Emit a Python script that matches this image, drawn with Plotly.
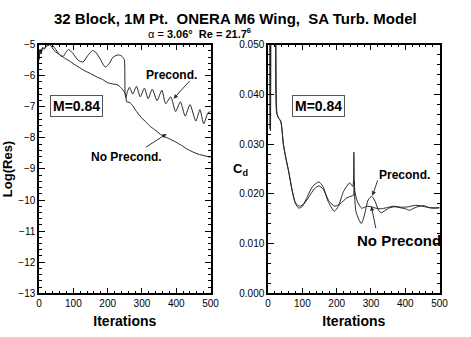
import plotly.graph_objects as go

# ---------------- data ----------------
# Left panel: Log(Res) vs iterations
res_pre_it = [0, 3, 6, 10, 15, 22, 30, 37, 45, 54, 63, 71, 78, 85, 92, 100, 114, 128, 142, 156,
              165, 175, 193, 205, 216, 230, 240, 247, 249, 251, 253, 258, 264, 273, 284, 295, 307,
              318, 330, 344, 358, 369, 384, 398, 412, 426, 440, 457, 469, 480, 492, 500]
res_pre_val = [-5.45, -5.15, -5.3, -5.1, -5.12, -5.04, -5.0, -5.0, -5.1, -5.24, -5.36, -5.37, -5.25, -5.16,
               -5.2, -5.3, -5.5, -5.56, -5.35, -5.19, -5.24, -5.4, -5.72, -5.6, -5.4, -5.33, -5.36, -5.45,
               -5.5, -6.6, -6.7, -6.5, -6.37, -6.59, -6.34, -6.68, -6.4, -6.74, -6.43, -6.8, -6.46,
               -6.9, -6.68, -7.15, -6.84, -7.3, -6.93, -7.46, -7.09, -7.55, -7.2, -7.15]

res_nop_it = [0, 3, 6, 10, 15, 22, 31, 45, 60, 74, 88, 102, 117, 131, 150, 170, 185, 199, 213, 230,
              244, 250, 253, 255, 262, 270, 284, 301, 311, 321, 341, 358, 378, 398, 415, 435, 463, 500]
res_nop_val = [-5.5, -5.2, -5.3, -5.1, -5.15, -5.05, -5.0, -5.2, -5.32, -5.43, -5.52, -5.63, -5.73,
               -5.83, -5.93, -6.05, -6.12, -6.22, -6.26, -6.3, -6.45, -6.55, -6.62, -6.84, -6.85,
               -6.92, -7.15, -7.38, -7.48, -7.6, -7.77, -7.92, -8.02, -8.13, -8.24, -8.38, -8.52, -8.62]

# Right panel: Cd vs iterations
cd_pre_it = [0, 3, 6, 8.5, 12, 17, 22, 25, 31, 37, 45, 52, 60, 71, 80, 90, 100, 115, 130, 148, 160,
             175, 193, 205, 220, 238, 247, 250, 252, 256, 265, 272, 280, 292, 302, 312, 322, 330,
             340, 355, 370, 385, 400, 412, 425, 440, 455, 470, 485, 500]
cd_pre_val = [0.08, 0.10, 0.033, 0.09, 0.08, 0.09, 0.06, 0.0362, 0.0352, 0.0346, 0.0298, 0.027,
              0.0245, 0.0204, 0.018, 0.0171, 0.0175, 0.0195, 0.0215, 0.0224, 0.0215, 0.0185, 0.0165,
              0.0175, 0.0205, 0.0222, 0.0215, 0.0284, 0.020, 0.0165, 0.0148, 0.014, 0.0155, 0.0188,
              0.0195, 0.0185, 0.0167, 0.0162, 0.0166, 0.0172, 0.0174, 0.0172, 0.017, 0.0167,
              0.0171, 0.0175, 0.0176, 0.0172, 0.0171, 0.0172]

cd_nop_it = [0, 4, 7, 11, 15, 19, 23, 26, 31, 37, 45, 60, 71, 80, 92, 105, 120, 135, 148, 160, 178,
             195, 210, 230, 245, 249, 251, 253, 260, 273, 288, 300, 315, 330, 345, 365, 390, 410,
             430, 450, 475, 500]
cd_nop_val = [0.07, 0.09, 0.0327, 0.09, 0.07, 0.08, 0.05, 0.0362, 0.0352, 0.0346, 0.0298, 0.0245,
              0.0204, 0.0182, 0.0175, 0.018, 0.0195, 0.021, 0.0216, 0.021, 0.0185, 0.0175, 0.018,
              0.0192, 0.0196, 0.0197, 0.0225, 0.0205, 0.0185, 0.0171, 0.0175, 0.0174, 0.0171,
              0.017, 0.0172, 0.0175, 0.0173, 0.0174, 0.0177, 0.0175, 0.0172, 0.0172]

x_ticks = [0, 100, 200, 300, 400, 500]
res_ticks = [-5, -6, -7, -8, -9, -10, -11, -12, -13]
cd_ticks = [0.0, 0.01, 0.02, 0.03, 0.04, 0.05]

# ---------------- figure ----------------
W, H = 471, 337
FONT = "Liberation Sans, Arial, sans-serif"
LC = "#262626"

fig = go.Figure()
fig.add_trace(go.Scatter(x=res_pre_it, y=res_pre_val, mode="lines", name="Precond.",
                         line=dict(color=LC, width=1, shape="spline", smoothing=0.6),
                         xaxis="x", yaxis="y"))
fig.add_trace(go.Scatter(x=res_nop_it, y=res_nop_val, mode="lines", name="No Precond.",
                         line=dict(color=LC, width=1, shape="spline", smoothing=0.6),
                         xaxis="x", yaxis="y"))
fig.add_trace(go.Scatter(x=cd_pre_it, y=cd_pre_val, mode="lines", name="Precond.",
                         line=dict(color=LC, width=1, shape="spline", smoothing=0.6),
                         xaxis="x2", yaxis="y2"))
fig.add_trace(go.Scatter(x=cd_nop_it, y=cd_nop_val, mode="lines", name="No Precond",
                         line=dict(color=LC, width=1, shape="spline", smoothing=0.6),
                         xaxis="x2", yaxis="y2"))

ydom = [1 - 298 / H, 1 - 41 / H]
axis_common = dict(showline=True, linecolor="black", linewidth=1.5, mirror="allticks",
                   ticks="inside", ticklen=6, tickcolor="black", tickwidth=1,
                   showgrid=False, zeroline=False,
                   tickfont=dict(family=FONT, size=10, color="black"),
                   minor=dict(ticks="inside", ticklen=3, tickcolor="black", tickwidth=1, showgrid=False))

fig.update_layout(
    width=W, height=H,
    margin=dict(l=0, r=0, t=0, b=0),
    paper_bgcolor="white", plot_bgcolor="white",
    showlegend=False,
    font=dict(family=FONT, color="black"),
    xaxis=dict(domain=[37 / W, 213 / W], range=[0, 500], tickvals=x_ticks,
               minor=dict(dtick=20), anchor="y",
               title=dict(text="<b>Iterations</b>", font=dict(size=14), standoff=8),
               **{k: v for k, v in axis_common.items() if k != "minor"}),
    yaxis=dict(domain=ydom, range=[-13, -5], tickvals=res_ticks, anchor="x",
               minor=dict(dtick=0.2),
               title=dict(text="<b>Log(Res)</b>", font=dict(size=13), standoff=4),
               **{k: v for k, v in axis_common.items() if k != "minor"}),
    xaxis2=dict(domain=[272 / W, 448 / W], range=[0, 500], tickvals=x_ticks,
                minor=dict(dtick=20), anchor="y2",
                title=dict(text="<b>Iterations</b>", font=dict(size=14), standoff=8),
                **{k: v for k, v in axis_common.items() if k != "minor"}),
    yaxis2=dict(domain=ydom, range=[0, 0.05], tickvals=cd_ticks, tickformat=".3f",
                minor=dict(dtick=0.002), anchor="x2",
                **{k: v for k, v in axis_common.items() if k != "minor"}),
)

for ax in ["xaxis", "yaxis", "xaxis2", "yaxis2"]:
    fig.layout[ax].minor.update(ticks="inside", ticklen=3, tickcolor="black", tickwidth=1, showgrid=False)

ann = []
# titles
ann.append(dict(text="<b>32 Block, 1M Pt.\u00a0 ONERA M6 Wing,\u00a0 SA Turb. Model</b>",
                xref="paper", yref="paper", x=239 / W, y=1 - 14 / H, showarrow=False,
                font=dict(size=15, family=FONT), xanchor="center", yanchor="middle"))
ann.append(dict(text="α = <b>3.06°\u00a0 Re = 21.7<sup>6</sup></b>",
                xref="paper", yref="paper", x=202 / W, y=1 - 29 / H, showarrow=False,
                font=dict(size=11, family=FONT), xanchor="center", yanchor="middle"))
# Cd label
ann.append(dict(text="<b>C<sub>d</sub></b>", xref="paper", yref="paper", x=244 / W, y=1 - 170 / H,
                showarrow=False, font=dict(size=13, family=FONT), xanchor="center", yanchor="middle"))
# Mach boxes
for xr, yr, xv, yv in [("x", "y", 108, -6.96), ("x2", "y2", 148, 0.0377)]:
    ann.append(dict(text="<b>M=0.84</b>", xref=xr, yref=yr, x=xv, y=yv, showarrow=False,
                    font=dict(size=14, family=FONT), bgcolor="white", bordercolor="#555",
                    borderwidth=1, borderpad=2))
# labels
labels = [
    ("x", "y", "<b>Precond.</b>", 386, -5.97, 12),
    ("x", "y", "<b>No Precond.</b>", 256, -8.61, 12),
    ("x2", "y2", "<b>Precond.</b>", 398, 0.0237, 12),
    ("x2", "y2", "<b>No Precond</b>", 381, 0.0107, 15),
]
for xr, yr, t, xv, yv, fs in labels:
    ann.append(dict(text=t, xref=xr, yref=yr, x=xv, y=yv, showarrow=False,
                    font=dict(size=fs, family=FONT)))
# arrows (tail -> head)
arrows = [
    ("x", "y", 443, -6.12, 392, -6.74),
    ("x", "y", 307, -8.33, 372, -7.87),
    ("x2", "y2", 321, 0.0230, 304, 0.0196),
    ("x2", "y2", 315, 0.0128, 301, 0.0175),
]
for xr, yr, tx, ty, hx, hy in arrows:
    ann.append(dict(text="", xref=xr, yref=yr, x=hx, y=hy, axref=xr, ayref=yr, ax=tx, ay=ty,
                    showarrow=True, arrowhead=2, arrowsize=0.9, arrowwidth=1, arrowcolor="#333"))
fig.update_layout(annotations=ann)

fig.write_html("out.html")
